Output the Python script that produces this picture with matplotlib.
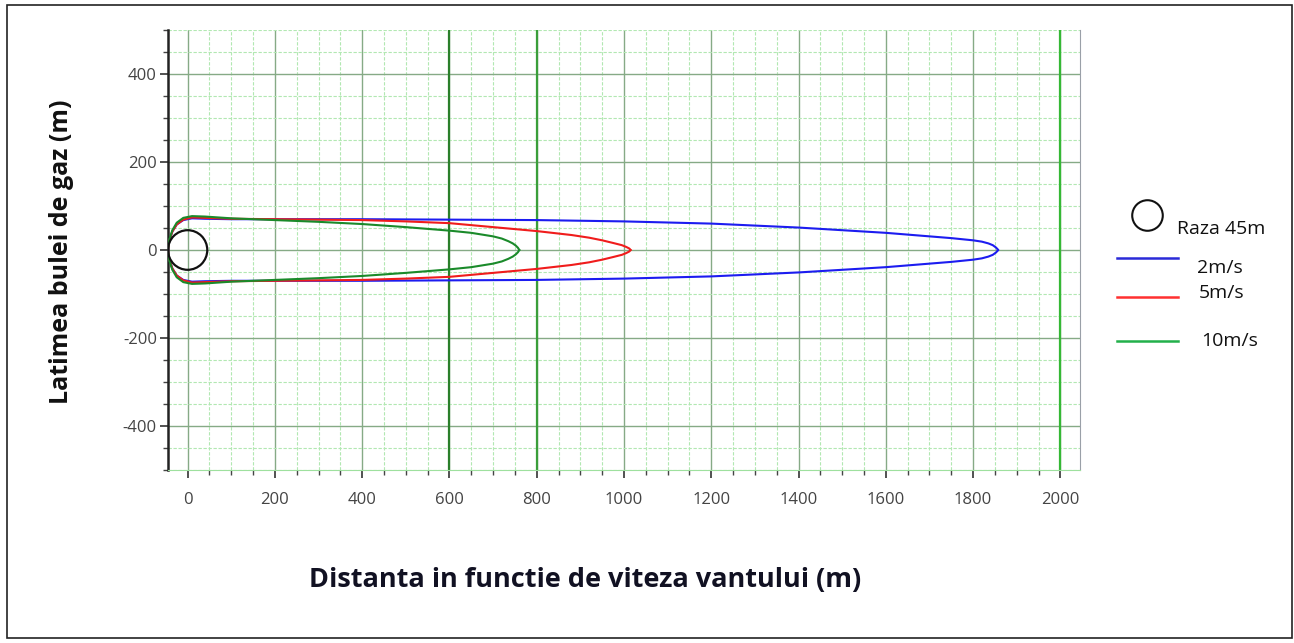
#!/usr/bin/env python3
"""Gas plume width vs downwind distance for three wind speeds."""

import matplotlib
matplotlib.use("Agg")
import matplotlib.pyplot as plt
from matplotlib.lines import Line2D
from matplotlib.patches import Circle, Rectangle
from matplotlib.ticker import MultipleLocator

plt.rcParams["axes.unicode_minus"] = False

# --- data (x in m, half-width in m) ---
x_2ms = [-45, -42, -35, -25, -10, 10, 40, 100, 200, 400, 600, 800, 1000,
         1200, 1400, 1600, 1700, 1750, 1780, 1800, 1820, 1835, 1845, 1852,
         1856, 1857]
w_2ms = [0, 22, 42, 58, 68, 72, 71, 70, 70, 70, 69, 68, 65,
         60, 51, 39, 31, 27, 24, 22, 19, 15, 11, 6,
         2, 0]

x_5ms = [-45, -42, -35, -25, -10, 10, 40, 100, 200, 300, 400, 500, 600,
         700, 800, 880, 920, 950, 975, 995, 1005, 1012, 1015]
w_5ms = [0, 22, 42, 58, 69, 74, 73, 71, 70, 69, 68, 65, 61,
         52, 43, 34, 28, 22, 16, 11, 7, 3.5, 0]

x_10ms = [-45, -42, -35, -25, -10, 10, 40, 100, 200, 300, 400, 500, 600,
          650, 700, 720, 735, 745, 752, 757, 760]
w_10ms = [0, 24, 45, 62, 73, 77, 76, 72, 68, 64, 59, 52, 44,
          39, 31, 26, 20, 15, 10, 5, 0]

radius = 45
series = [
    (x_2ms, w_2ms, "#1c1cf0", "#2a2ad8", "2m/s"),
    (x_5ms, w_5ms, "#f01c1c", "#ff3030", "5m/s"),
    (x_10ms, w_10ms, "#1a8a2a", "#22b04a", "10m/s"),
]
highlight_x = [600, 800, 2000]
highlight_c = ["#2a7f2a", "#3a9e3a", "#35b835"]

W, H = 1294, 643
fig = plt.figure(figsize=(W / 100, H / 100), dpi=100)
ax = fig.add_axes([168 / W, 1 - 470 / H, (1080 - 168) / W, (470 - 30) / H])

# grid
ax.xaxis.set_major_locator(MultipleLocator(200))
ax.xaxis.set_minor_locator(MultipleLocator(50))
ax.yaxis.set_major_locator(MultipleLocator(200))
ax.yaxis.set_minor_locator(MultipleLocator(50))
ax.grid(which="minor", color="#b2e8b2", linestyle=(0, (3, 1.5)), linewidth=0.8)
ax.grid(which="major", color="#86aa86", linestyle="-", linewidth=1.0)
ax.set_axisbelow(True)
for xv, c in zip(highlight_x, highlight_c):
    ax.axvline(xv, color=c, linewidth=1.6, zorder=1)

# plume outlines (upper and mirrored lower)
for xs, ws, col, _, _ in series:
    ax.plot(xs, ws, color=col, linewidth=1.5, zorder=3)
    ax.plot(xs, [-w for w in ws], color=col, linewidth=1.5, zorder=3)

ax.add_patch(Circle((0, 0), radius, fill=False, edgecolor="#111111",
                    linewidth=1.6, zorder=4))

ax.set_xlim(-45, 2045)
ax.set_ylim(-500, 500)

ax.spines["top"].set_visible(False)
ax.spines["left"].set_color("#222222")
ax.spines["left"].set_linewidth(1.8)
ax.spines["right"].set_color("#9aa0a8")
ax.spines["bottom"].set_color("#9ee09e")
ax.tick_params(which="major", length=6, width=1.2, color="#333333",
               labelsize=12, labelcolor="#444444")
ax.tick_params(axis="x", which="major", pad=10)
ax.tick_params(axis="y", which="major", pad=2)
ax.tick_params(which="minor", length=3.5, width=1.0, color="#444444")
for lab in ax.get_xticklabels() + ax.get_yticklabels():
    lab.set_family("Open Sans")

# axis labels
fig.text(62 / W, 1 - 252 / H, "Latimea bulei de gaz (m)", rotation=90,
         ha="center", va="center", fontsize=18, fontweight="bold",
         family="Open Sans", color="#111111")
fig.text(585 / W, 1 - 580 / H, "Distanta in functie de viteza vantului (m)",
         ha="center", va="center", fontsize=19.5, fontweight="bold",
         family="Open Sans", color="#111122")

# hand-drawn legend at right
fig.add_artist(Line2D([1147 / W], [1 - 215 / H], transform=fig.transFigure,
                      marker="o", markersize=22, markerfacecolor="none",
                      markeredgecolor="#111111", markeredgewidth=1.5))
fig.text(1177 / W, 1 - 229 / H, "Raza 45m", ha="left", va="center",
         fontsize=14, family="Open Sans", color="#111111")
legend_pos = [(258, 268, 1197), (297, 293, 1199), (341, 341, 1201)]
for (_, _, _, lcol, lab), (ly, ty, tx) in zip(series, legend_pos):
    fig.add_artist(Line2D([1117 / W, 1178 / W], [1 - ly / H, 1 - ly / H],
                          transform=fig.transFigure, color=lcol, linewidth=1.8))
    fig.text(tx / W, 1 - ty / H, lab, ha="left", va="center",
             fontsize=14, family="Open Sans", color="#111111")

# outer frame
fig.add_artist(Rectangle((7 / W, 5 / H), (1292 - 7) / W, (638 - 5) / H,
                         transform=fig.transFigure, fill=False,
                         edgecolor="#222222", linewidth=1.2))

fig.savefig("out.png", dpi=100)
